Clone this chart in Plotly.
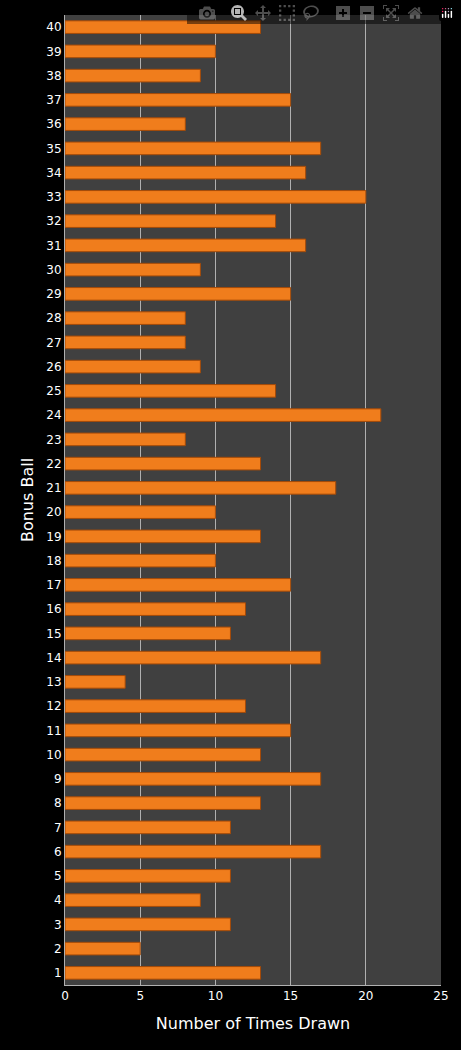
import plotly.graph_objects as go

balls = list(range(1, 41))
times_drawn = [13, 5, 11, 9, 11, 17, 11, 13, 17, 13,
               15, 12, 4, 17, 11, 12, 15, 10, 13, 10,
               18, 13, 8, 21, 14, 9, 8, 8, 15, 9,
               16, 14, 20, 16, 17, 8, 15, 9, 10, 13]

fig = go.Figure(go.Bar(
    x=times_drawn,
    y=[str(b) for b in balls],
    orientation="h",
    marker=dict(color="#f07d1c", line=dict(color="#a44a08", width=1)),
))

fig.update_layout(
    width=461, height=1050,
    margin=dict(l=65, r=20, t=15, b=65),
    paper_bgcolor="black",
    plot_bgcolor="#404040",
    font=dict(family="DejaVu Sans", color="white", size=12),
    bargap=0.48,
    showlegend=False,
    xaxis=dict(
        range=[0, 25], dtick=5,
        showgrid=True, gridcolor="#b0b0b0", gridwidth=1,
        zeroline=False, showline=True, linecolor="#b0b0b0",
        title=dict(text="Number of Times Drawn", font=dict(size=16)),
        ticks="", fixedrange=True,
    ),
    yaxis=dict(
        type="category", showgrid=False, ticks="",
        showline=True, linecolor="#b0b0b0",
        title=dict(text="Bonus Ball", font=dict(size=16), standoff=8),
    ),
)

fig.write_html(
    "out.html",
    post_script="document.body.style.margin='0';document.body.style.background='black';",
)
